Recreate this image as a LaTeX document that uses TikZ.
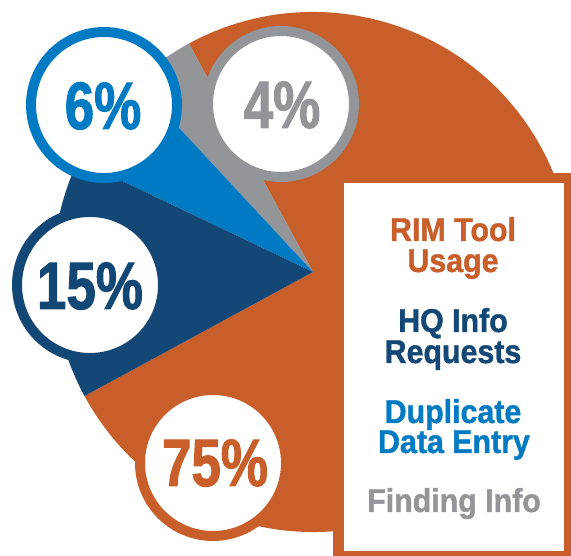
\documentclass[tikz,border=0pt]{standalone}
\usepackage{fontspec}
\setmainfont{Liberation Sans}
\newfontfamily\pctfont{Liberation Sans}[FakeStretch=0.79, FakeBold=1.5]
\newfontfamily\legfont{Liberation Sans}[FakeStretch=0.92, FakeBold=1.2]
\definecolor{rimorange}{HTML}{C85E29}
\definecolor{hqblue}{HTML}{134876}
\definecolor{dupblue}{HTML}{007BC3}
\definecolor{findgray}{HTML}{939598}
\begin{document}
\begin{tikzpicture}[x=1pt,y=1pt,
  ring/.style={circle, draw=#1, line width=10pt, fill=white, minimum size=146pt, inner sep=0pt},
  pct/.style={text=#1, font=\pctfont\bfseries\fontsize{67}{67}\selectfont, anchor=base, inner sep=0pt},
  leg/.style={text=#1, font=\legfont\bfseries\fontsize{33}{33}\selectfont, anchor=base, inner sep=0pt}]
\useasboundingbox (0,0) rectangle (571,556);
% pie
\coordinate (O) at (313,284);
\fill[rimorange] (O) -- ++(-151.5:260pt) arc[start angle=-151.5, end angle=118.5, radius=260pt] -- cycle;
\fill[findgray] (O) -- ++(118.5:260pt) arc[start angle=118.5, end angle=132.9, radius=260pt] -- cycle;
\fill[dupblue] (O) -- ++(132.9:260pt) arc[start angle=132.9, end angle=154.5, radius=260pt] -- cycle;
\fill[hqblue] (O) -- ++(154.5:260pt) arc[start angle=154.5, end angle=208.5, radius=260pt] -- cycle;
% rings
\node[ring=dupblue] (c6) at (104,451) {};
\node[ring=findgray] (c4) at (281,452) {};
\node[ring=hqblue] (c15) at (90,271) {};
\node[ring=rimorange] (c75) at (213,93) {};
\node[pct=dupblue] (p6) at (103,427) {6\%};
\node[pct=findgray] (p4) at (282,428) {4\%};
\node[pct=hqblue] (p15) at (90,247) {15\%};
\node[pct=rimorange] (p75) at (215,70) {75\%};
% legend box
\fill[rimorange] (333,-4) rectangle (575,383);
\fill[white] (344,5) rectangle (564,373);
\node[leg=rimorange] (l1) at (453,315) {RIM Tool};
\node[leg=rimorange] (l2) at (453,284) {Usage};
\node[leg=hqblue] (l3) at (453,224) {HQ Info};
\node[leg=hqblue] (l4) at (453,193) {Requests};
\node[leg=dupblue] (l5) at (453,133) {Duplicate};
\node[leg=dupblue] (l6) at (454,103) {Data Entry};
\node[leg=findgray] (l7) at (454,44) {Finding Info};
\end{tikzpicture}
\end{document}
